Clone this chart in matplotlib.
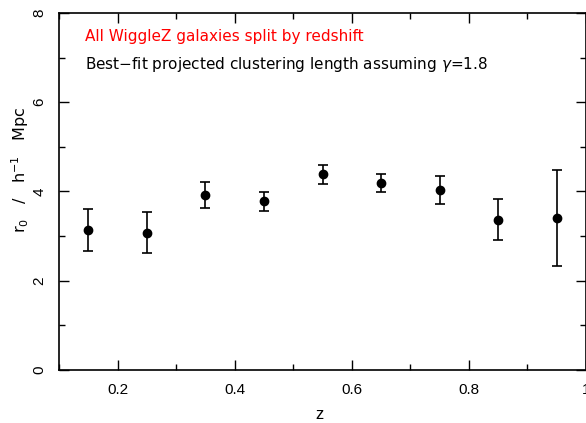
import matplotlib
matplotlib.use("Agg")
import matplotlib.pyplot as plt
from matplotlib.ticker import MultipleLocator

z = [0.15, 0.25, 0.35, 0.45, 0.55, 0.65, 0.75, 0.85, 0.95]
r0 = [3.14, 3.08, 3.92, 3.78, 4.39, 4.20, 4.03, 3.37, 3.41]
err_low = [0.47, 0.46, 0.29, 0.21, 0.22, 0.21, 0.31, 0.46, 1.08]
err_high = [0.46, 0.45, 0.29, 0.21, 0.20, 0.19, 0.32, 0.46, 1.07]
x_ticks = [0.2, 0.4, 0.6, 0.8, 1.0]
x_ticklabels = ["0.2", "0.4", "0.6", "0.8", "1"]
y_ticks = [0, 2, 4, 6, 8]

plt.rcParams['font.family'] = ['Liberation Sans', 'DejaVu Sans']
plt.rcParams['mathtext.fontset'] = 'custom'
plt.rcParams['mathtext.rm'] = 'DejaVu Sans'
plt.rcParams['mathtext.it'] = 'DejaVu Sans:italic'

fig = plt.figure(figsize=(5.86, 4.23), dpi=100)
W, H = 586, 423
ax = fig.add_axes([59/W, 1 - 370/H, 527/W, 357/H])

ax.errorbar(z, r0, yerr=[err_low, err_high], fmt='o', color='black',
            markersize=6, capsize=3.5, elinewidth=1.2, capthick=1.2)

ax.set_xlim(0.1, 1.0)
ax.set_ylim(0, 8)
ax.set_xticks(x_ticks)
ax.set_xticklabels(x_ticklabels)
ax.set_yticks(y_ticks)
ax.xaxis.set_minor_locator(MultipleLocator(0.1))
ax.yaxis.set_minor_locator(MultipleLocator(1))
ax.tick_params(which='both', direction='in', top=True, right=True, labelsize=11, width=1.0)
ax.tick_params(which='major', length=7)
ax.tick_params(which='minor', length=4)
ax.tick_params(axis='x', which='major', pad=9)
ax.tick_params(axis='y', which='major', pad=9)
for lab in ax.get_yticklabels():
    lab.set_rotation(90)
    lab.set_va('center')
for s in ax.spines.values():
    s.set_linewidth(1.2)

ax.set_xlabel('z', fontsize=12)
ax.xaxis.set_label_coords((320 - 59) / 527, (370 - 419) / 357)
ax.xaxis.label.set_va('baseline')
ax.set_ylabel(r'r$_0$   /   h$^{-1}$   Mpc', fontsize=11.5, family=['DejaVu Sans'])
ax.yaxis.set_label_coords((20 - 59) / 527, (370 - 170) / 357)
ax.yaxis.label.set_va('center')

fig.text(85/W, 1 - 37/H, 'All WiggleZ galaxies split by redshift', color='red',
         fontsize=11, family=['DejaVu Sans'], va='center', ha='left')
fig.text(85/W, 1 - 64/H, r'Best$-$fit projected clustering length assuming $\gamma$=1.8',
         color='black', fontsize=11, family=['DejaVu Sans'], va='center', ha='left')

fig.savefig('out.png', dpi=100)
